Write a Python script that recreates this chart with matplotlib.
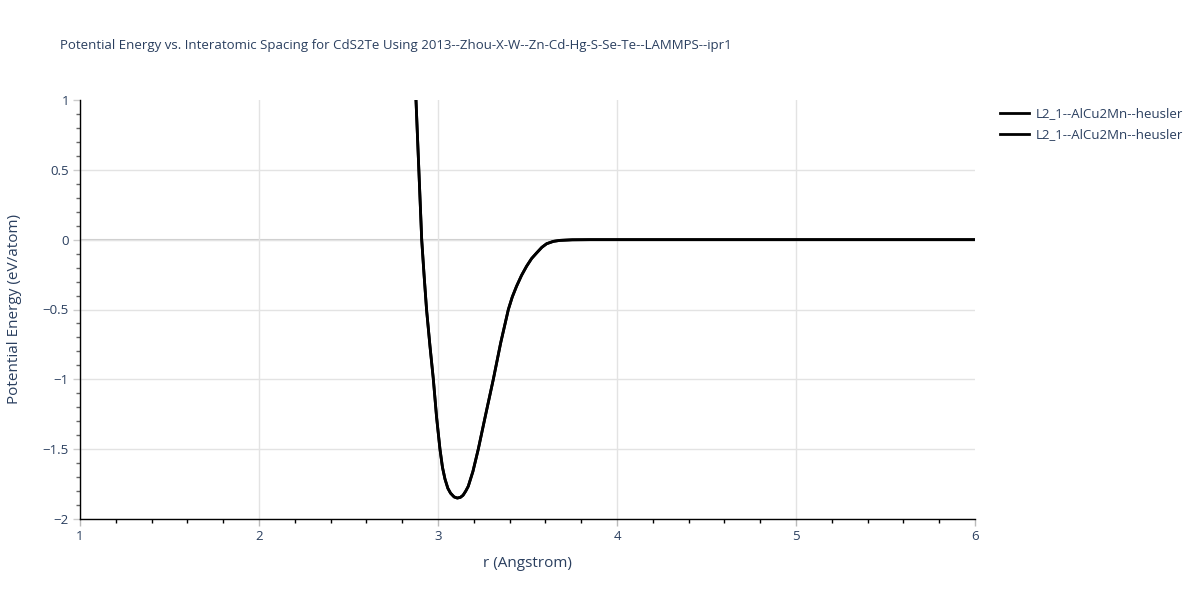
import matplotlib
matplotlib.use("Agg")
import matplotlib.pyplot as plt
from matplotlib.ticker import MultipleLocator, FuncFormatter

plt.rcParams['font.family'] = ['Open Sans', 'DejaVu Sans']

title = "Potential Energy vs. Interatomic Spacing for CdS2Te Using 2013--Zhou-X-W--Zn-Cd-Hg-S-Se-Te--LAMMPS--ipr1"
x_label = "r (Angstrom)"
y_label = "Potential Energy (eV/atom)"
series_labels = ["L2_1--AlCu2Mn--heusler", "L2_1--AlCu2Mn--heusler"]

r_values = [2.85, 2.877, 2.893, 2.909, 2.922, 2.936, 2.955, 2.974, 2.992, 3.011, 3.025,
            3.039, 3.055, 3.07, 3.09, 3.108, 3.125, 3.14, 3.155, 3.169, 3.195, 3.225,
            3.265, 3.309, 3.35, 3.393, 3.415, 3.439, 3.467, 3.495, 3.523, 3.551,
            3.58, 3.607, 3.645, 3.682, 3.75, 3.85, 4.0, 4.5, 5.0, 5.5, 6.0]
energy_values = [1.85, 1.0, 0.5, 0.0, -0.25, -0.5, -0.76, -1.0, -1.27, -1.5, -1.63,
                 -1.714, -1.78, -1.815, -1.842, -1.85, -1.845, -1.83, -1.80, -1.766, -1.66, -1.5,
                 -1.26, -1.0, -0.74, -0.5, -0.41, -0.333, -0.255, -0.19, -0.135, -0.095,
                 -0.055, -0.029, -0.012, -0.005, -0.001, 0.0, 0.0, 0.0, 0.0, 0.0, 0.0]

text_color = "#2a3f5f"
fig = plt.figure(figsize=(12, 6), dpi=100)
ax = fig.add_axes([80/1200, 81/600, 895/1200, 419/600])

for lab in series_labels:
    ax.plot(r_values, energy_values, color="black", linewidth=2, label=lab, zorder=3)

ax.set_xlim(1, 6)
ax.set_ylim(-2, 1)
ax.xaxis.set_major_locator(MultipleLocator(1))
ax.xaxis.set_minor_locator(MultipleLocator(0.2))
ax.yaxis.set_major_locator(MultipleLocator(0.5))
ax.yaxis.set_minor_locator(MultipleLocator(0.1))

def fmt(v, pos):
    if abs(v) < 1e-9:
        return "0"
    s = ("%g" % v)
    return s.replace("-", "\u2212")

ax.xaxis.set_major_formatter(FuncFormatter(fmt))
ax.yaxis.set_major_formatter(FuncFormatter(fmt))

ax.grid(True, which="major", color="#e3e3e3", linewidth=1, zorder=0)
ax.axhline(0, color="#cccccc", linewidth=1.5, zorder=1)

# hide gridlines at the far edges (x=6, y=1), as in the reference
xmax = ax.get_xlim()[1]
ymax = ax.get_ylim()[1]
for tick, loc in zip(ax.xaxis.get_major_ticks(), ax.xaxis.get_majorticklocs()):
    if loc >= xmax - 1e-9:
        tick.gridline.set_visible(False)
for tick, loc in zip(ax.yaxis.get_major_ticks(), ax.yaxis.get_majorticklocs()):
    if loc >= ymax - 1e-9:
        tick.gridline.set_visible(False)

for side in ["top", "right"]:
    ax.spines[side].set_visible(False)
for side in ["bottom", "left"]:
    ax.spines[side].set_color("black")
    ax.spines[side].set_linewidth(1)

ax.tick_params(axis="x", which="major", direction="out", length=5, width=1, color="#bbbbbb",
               labelsize=9.5, labelcolor=text_color, pad=3)
ax.tick_params(axis="x", which="minor", direction="out", length=3, width=1, color="black")
ax.tick_params(axis="y", which="major", direction="out", length=5, width=1, color="#cccccc",
               labelsize=9.5, labelcolor=text_color, pad=3)
ax.tick_params(axis="y", which="minor", direction="out", length=3, width=1, color="#666666")

fig.text(60/1200, 1 - 46/600, title, fontsize=9.5, color=text_color, ha="left", va="center")
ax.set_xlabel(x_label, fontsize=11, color=text_color, labelpad=9)
ax.set_ylabel(y_label, fontsize=11, color=text_color, labelpad=15)

leg = ax.legend(loc="upper left", bbox_to_anchor=(995/1200, 1 - 102/600),
                bbox_transform=fig.transFigure, frameon=False, fontsize=9.5,
                handlelength=2.2, handletextpad=0.5, labelspacing=0.6, borderaxespad=0)
for t in leg.get_texts():
    t.set_color(text_color)

fig.savefig("out.png", dpi=100)
